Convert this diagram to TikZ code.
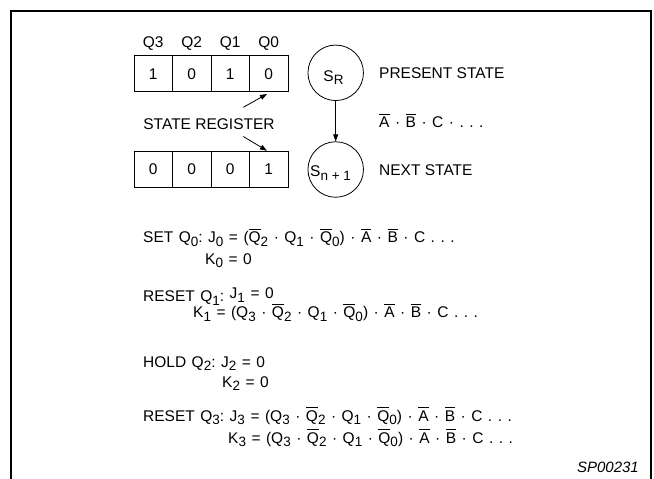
\documentclass[tikz,border=0pt]{standalone}
\usepackage{fontspec}
\setmainfont{Liberation Sans}
\usetikzlibrary{arrows.meta}
\newcommand\sbs[1]{\raisebox{-3.5pt}{\fontsize{13.5pt}{13.5pt}\selectfont #1}}
\newcommand\ovl[1]{\vbox{\hrule height 0.8pt\kern 2.2pt\hbox{#1}}}
\begin{document}
\frenchspacing
\begin{tikzpicture}[x=1pt,y=-1pt,
  font=\fontsize{15.5pt}{18pt}\selectfont,
  cell/.style={draw, line width=0.8pt, minimum width=38.5pt, minimum height=36pt, inner sep=0pt},
  state/.style={draw, circle, line width=0.8pt, minimum size=55.5pt, inner sep=0pt},
  txt/.style={anchor=base west, inner sep=0pt},
  eq/.style={txt, execute at begin node={\spaceskip=5.5pt\relax}},
  ctxt/.style={anchor=base, inner sep=0pt},
  tip/.style={-{Triangle[length=7pt,width=5pt]}, line width=0.8pt}]
\useasboundingbox (0,0) rectangle (654,479);
% frame
\draw[line width=1.6pt] (11,479) -- (11,11) -- (651,11) -- (651,479);
% register labels
\node[ctxt] (lq3) at (153.25,47.5) {Q3};
\node[ctxt] (lq2) at (191.75,47.5) {Q2};
\node[ctxt] (lq1) at (230.25,47.5) {Q1};
\node[ctxt] (lq0) at (268.75,47.5) {Q0};
% present register
\node[cell] (a3) at (153.25,73.7) {1};
\node[cell] (a2) at (191.75,73.7) {0};
\node[cell] (a1) at (230.25,73.7) {1};
\node[cell] (a0) at (268.75,73.7) {0};
% next register
\node[cell] (b3) at (153.25,169.3) {0};
\node[cell] (b2) at (191.75,169.3) {0};
\node[cell] (b1) at (230.25,169.3) {0};
\node[cell] (b0) at (268.75,169.3) {1};
% state register label and arrows
\node[ctxt] (sreg) at (209,129) {STATE REGISTER};
\coordinate (r1s) at (243.3,107.3);
\coordinate (r1e) at (267,94);
\coordinate (r2s) at (243.3,136.5);
\coordinate (r2e) at (267,150.7);
\draw[tip] (r1s) -- (r1e);
\draw[tip] (r2s) -- (r2e);
% states
\node[state] (sr) at (335.7,72.8) {};
\node[state] (sn) at (335.7,169.5) {};
\node[ctxt] (srl) at (333.5,81) {S\sbs{R}};
\node[txt] (snl) at (310,176.5) {S\sbs{n + 1}};
\draw[tip] (sr) -- (sn);
\node[txt] (ps) at (379,78.5) {PRESENT STATE};
\node[eq] (cond) at (379,127.3) {\ovl{A} · \ovl{B} · C · . . .};
\node[txt] (ns) at (379,175) {NEXT STATE};
% equations
\node[eq] (e1) at (143,242.5) {SET Q\sbs{0}: J\sbs{0} = (\ovl{Q}\sbs{2} · Q\sbs{1} · \ovl{Q}\sbs{0}) · \ovl{A} · \ovl{B} · C . . .};
\node[eq] (e2) at (205,264) {K\sbs{0} = 0};
\node[eq] (e3) at (143,301.5) {RESET Q\sbs{1}: \raisebox{3pt}{J\sbs{1} = 0}};
\node[eq] (e4) at (193,317.5) {K\sbs{1} = (Q\sbs{3} · \ovl{Q}\sbs{2} · Q\sbs{1} · \ovl{Q}\sbs{0}) · \ovl{A} · \ovl{B} · C . . .};
\node[eq] (e5) at (143,367) {HOLD Q\sbs{2}: J\sbs{2} = 0};
\node[eq] (e6) at (222,387) {K\sbs{2} = 0};
\node[eq] (e7) at (143,421) {RESET Q\sbs{3}: J\sbs{3} = (Q\sbs{3} · \ovl{Q}\sbs{2} · Q\sbs{1} · \ovl{Q}\sbs{0}) · \ovl{A} · \ovl{B} · C . . .};
\node[eq] (e8) at (228,443) {K\sbs{3} = (Q\sbs{3} · \ovl{Q}\sbs{2} · Q\sbs{1} · \ovl{Q}\sbs{0}) · \ovl{A} · \ovl{B} · C . . .};
\node[anchor=base east, inner sep=0pt, font=\fontsize{15pt}{18pt}\selectfont\itshape] (code) at (639,472) {SP00231};
\end{tikzpicture}
\end{document}
